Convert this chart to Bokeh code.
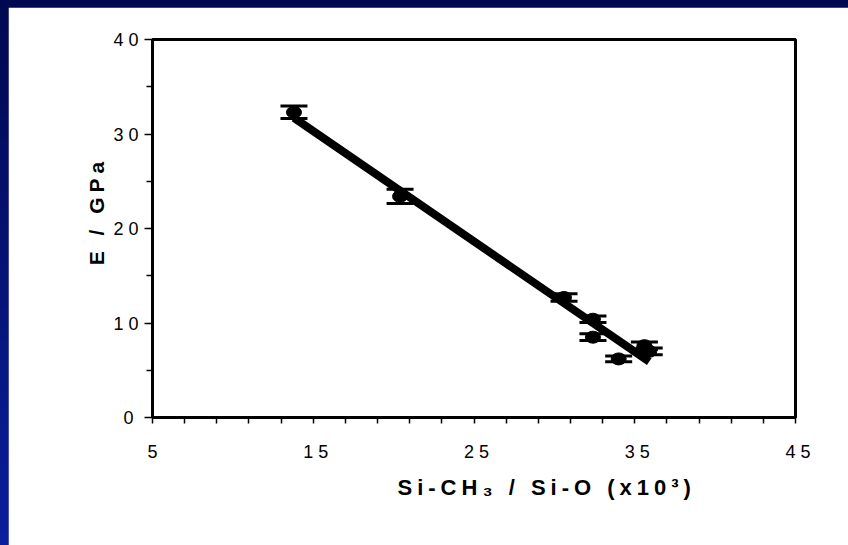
import numpy as np
from bokeh.plotting import figure
from bokeh.models import Whisker, TeeHead, ColumnDataSource, FixedTicker, Range1d, Title
from bokeh.embed import file_html
from bokeh.resources import INLINE

# Data
ratio = [13.8, 20.4, 30.6, 32.4, 32.4, 34.0, 35.6, 35.9]          # Si-CH3 / Si-O (x10^3)
modulus = [32.3, 23.4, 12.7, 10.4, 8.5, 6.2, 7.6, 7.0]            # E / GPa
err = [0.65, 0.75, 0.4, 0.35, 0.35, 0.3, 0.4, 0.35]

x_ticks = [5, 15, 25, 35, 45]
x_minor = [7, 9, 11, 13, 17, 19, 21, 23, 27, 29, 31, 33, 37, 39, 41, 43]
y_ticks = [0, 10, 20, 30, 40]
y_minor = [5, 15, 25, 35]
x_title = "Si-CH\u2083 / Si-O (x10\u00b3)"
y_title = "E / GPa"

src = ColumnDataSource(dict(
    x=ratio, y=modulus,
    lo=[m - e for m, e in zip(modulus, err)],
    hi=[m + e for m, e in zip(modulus, err)],
))

p = figure(width=840, height=538, output_backend="svg", toolbar_location=None,
           x_range=Range1d(5, 45), y_range=Range1d(0, 40))
p.min_border_left = 144
p.min_border_right = 53
p.min_border_top = 32
p.min_border_bottom = 128
p.background_fill_color = "white"
p.border_fill_color = "white"
p.grid.visible = False
p.outline_line_color = "black"
p.outline_line_width = 3
p.outline_line_alpha = 1

# linear fit drawn between the extreme x values
slope, icpt = np.polyfit(ratio, modulus, 1)
fx = [min(ratio), max(ratio)]
fy = [slope * v + icpt for v in fx]
p.line(fx, fy, line_color="black", line_width=8)

w = Whisker(source=src, base="x", lower="lo", upper="hi", dimension="height",
            line_color="black", line_width=3,
            upper_head=TeeHead(size=27, line_width=3, line_color="black"),
            lower_head=TeeHead(size=27, line_width=3, line_color="black"))
p.add_layout(w)
p.ellipse("x", "y", source=src, width=15, height=12,
          width_units="screen", height_units="screen",
          fill_color="black", line_color="black")

for ax in (p.xaxis[0], p.yaxis[0]):
    ax.axis_line_width = 3
    ax.axis_line_color = "black"
    ax.major_tick_line_color = "black"
    ax.minor_tick_line_color = "black"
    ax.major_tick_line_width = 1.5
    ax.minor_tick_line_width = 1.5
    ax.major_label_text_font = "Liberation Sans"
    ax.major_label_text_font_size = "18px"
    ax.major_label_text_color = "black"
    ax.axis_label_text_font = "Liberation Sans"
    ax.axis_label_text_font_style = "bold"
    ax.axis_label_text_font_size = "21px"
    ax.axis_label_text_color = "black"

p.xaxis.ticker = FixedTicker(ticks=x_ticks, minor_ticks=x_minor)
p.yaxis.ticker = FixedTicker(ticks=y_ticks, minor_ticks=y_minor)
p.xaxis.major_tick_out = 6
p.xaxis.major_tick_in = 0
p.xaxis.minor_tick_out = 6
p.xaxis.minor_tick_in = 0
p.yaxis.major_tick_out = 8
p.yaxis.major_tick_in = 0
p.yaxis.minor_tick_out = 6
p.yaxis.minor_tick_in = 0
p.xaxis.major_label_standoff = 21
p.yaxis.major_label_standoff = 11
p.yaxis.axis_label = y_title
p.yaxis.axis_label_standoff = 2

# x-axis title, set as a left-aligned title in the bottom panel
p.add_layout(Title(text=x_title, align="left", offset=245, standoff=25,
                   text_font="Liberation Sans", text_font_style="bold",
                   text_font_size="22px", text_color="black"), "below")

html = file_html(p, INLINE)
style = ("<style>html,body{background:linear-gradient(to bottom,#000850,#0b1e9c);}"
         "body{padding:7px 0 0 8px;overflow:hidden;letter-spacing:5px;}</style>")
html = html.replace("</head>", style + "</head>", 1)
open("out.html", "w").write(html)
